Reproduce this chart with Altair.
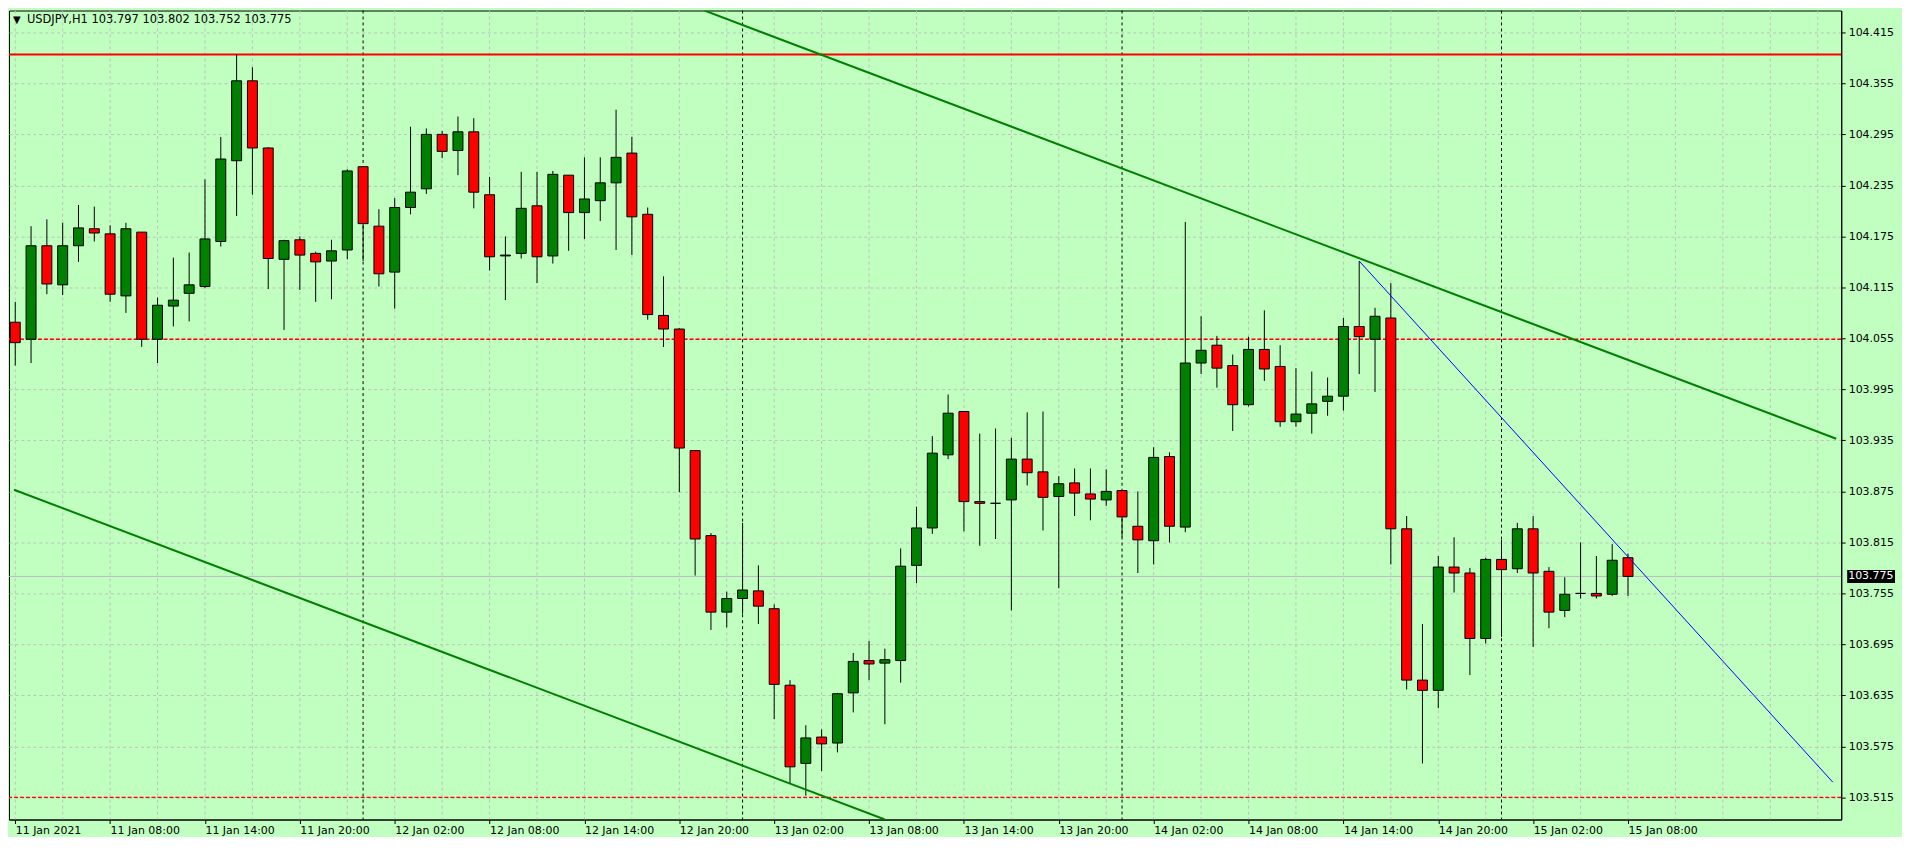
import altair as alt
import pandas as pd

# ---------------- data ----------------
title_text = "USDJPY,H1  103.797 103.802 103.752 103.775"

opens = [104.074, 104.054, 104.164, 104.118, 104.164, 104.184, 104.178, 104.105, 104.180, 104.054,
         104.093, 104.108, 104.116, 104.169, 104.264, 104.358, 104.279, 104.148, 104.171, 104.155,
         104.146, 104.159, 104.257, 104.187, 104.133, 104.209, 104.231, 104.295, 104.276, 104.298,
         104.224, 104.152, 104.155, 104.211, 104.152, 104.247, 104.203, 104.217, 104.238, 104.273,
         104.201, 104.082, 104.066, 103.923, 103.823, 103.733, 103.749, 103.758, 103.737, 103.647,
         103.555, 103.586, 103.579, 103.638, 103.676, 103.673, 103.676, 103.788, 103.832, 103.918,
         103.969, 103.863, 103.861, 103.865, 103.913, 103.898, 103.869, 103.885, 103.872, 103.865,
         103.876, 103.834, 103.817, 103.916, 103.833, 104.026, 104.047, 104.023, 103.977, 104.042,
         104.022, 103.957, 103.967, 103.981, 103.987, 104.069, 104.054, 104.079, 103.831, 103.653,
         103.641, 103.786, 103.779, 103.702, 103.795, 103.784, 103.831, 103.781, 103.735, 103.755,
         103.755, 103.754, 103.797]
highs = [104.098, 104.187, 104.195, 104.191, 104.212, 104.210, 104.188, 104.191, 104.180, 104.103,
         104.150, 104.156, 104.242, 104.292, 104.389, 104.374, 104.280, 104.171, 104.175, 104.157,
         104.171, 104.254, 104.257, 104.207, 104.220, 104.304, 104.302, 104.299, 104.316, 104.314,
         104.245, 104.175, 104.251, 104.251, 104.252, 104.247, 104.268, 104.268, 104.324, 104.292,
         104.209, 104.128, 104.067, 103.923, 103.826, 103.757, 103.838, 103.788, 103.742, 103.653,
         103.600, 103.595, 103.638, 103.685, 103.699, 103.690, 103.808, 103.857, 103.940, 103.989,
         103.969, 103.943, 103.949, 103.938, 103.968, 103.969, 103.893, 103.902, 103.902, 103.901,
         103.876, 103.875, 103.927, 103.921, 104.192, 104.081, 104.058, 104.036, 104.057, 104.088,
         104.047, 104.020, 104.016, 104.009, 104.079, 104.146, 104.091, 104.120, 103.846, 103.719,
         103.799, 103.821, 103.785, 103.797, 103.818, 103.838, 103.846, 103.786, 103.774, 103.815,
         103.799, 103.813, 103.802]
lows = [104.023, 104.026, 104.107, 104.106, 104.145, 104.169, 104.098, 104.085, 104.045, 104.026,
        104.069, 104.075, 104.114, 104.163, 104.199, 104.224, 104.113, 104.065, 104.112, 104.098,
        104.101, 104.148, 104.146, 104.116, 104.090, 104.201, 104.225, 104.267, 104.247, 104.208,
        104.135, 104.100, 104.149, 104.120, 104.143, 104.158, 104.172, 104.193, 104.159, 104.153,
        104.077, 104.045, 103.874, 103.776, 103.712, 103.715, 103.731, 103.719, 103.607, 103.531,
        103.517, 103.546, 103.568, 103.615, 103.653, 103.601, 103.650, 103.767, 103.825, 103.913,
        103.828, 103.811, 103.819, 103.735, 103.882, 103.829, 103.761, 103.846, 103.841, 103.858,
        103.821, 103.779, 103.789, 103.815, 103.827, 104.013, 103.997, 103.946, 103.975, 104.005,
        103.951, 103.951, 103.943, 103.964, 103.970, 104.013, 103.992, 103.789, 103.642, 103.555,
        103.620, 103.756, 103.659, 103.696, 103.704, 103.779, 103.692, 103.714, 103.727, 103.749,
        103.749, 103.752, 103.752]
closes = [104.050, 104.164, 104.119, 104.164, 104.185, 104.179, 104.107, 104.184, 104.054, 104.094,
          104.100, 104.118, 104.172, 104.266, 104.358, 104.279, 104.149, 104.170, 104.153, 104.145,
          104.158, 104.252, 104.190, 104.131, 104.209, 104.227, 104.295, 104.275, 104.298, 104.227,
          104.151, 104.153, 104.208, 104.151, 104.248, 104.203, 104.219, 104.238, 104.268, 104.198,
          104.083, 104.066, 103.926, 103.819, 103.733, 103.749, 103.759, 103.740, 103.648, 103.551,
          103.585, 103.578, 103.637, 103.675, 103.672, 103.677, 103.787, 103.832, 103.920, 103.967,
          103.863, 103.861, 103.861, 103.913, 103.897, 103.868, 103.884, 103.873, 103.866, 103.875,
          103.845, 103.818, 103.915, 103.834, 104.026, 104.041, 104.020, 103.977, 104.042, 104.019,
          103.957, 103.966, 103.978, 103.987, 104.069, 104.057, 104.081, 103.831, 103.653, 103.641,
          103.786, 103.779, 103.702, 103.795, 103.783, 103.831, 103.779, 103.733, 103.754, 103.755,
          103.752, 103.794, 103.775]

bar_index = list(range(len(opens)))  # one bar per hour, 11 Jan 02:00 .. 15 Jan 08:00

x_tick_pos = [0, 6, 12, 18, 24, 30, 36, 42, 48, 54, 60, 66, 72, 78, 84, 90, 96, 102]
x_tick_labels = ["11 Jan 2021", "11 Jan 08:00", "11 Jan 14:00", "11 Jan 20:00",
                 "12 Jan 02:00", "12 Jan 08:00", "12 Jan 14:00", "12 Jan 20:00",
                 "13 Jan 02:00", "13 Jan 08:00", "13 Jan 14:00", "13 Jan 20:00",
                 "14 Jan 02:00", "14 Jan 08:00", "14 Jan 14:00", "14 Jan 20:00",
                 "15 Jan 02:00", "15 Jan 08:00"]
x_grid = [0, 3, 6, 9, 12, 15, 18, 21, 24, 27, 30, 33, 36, 39, 42, 45, 48, 51, 54, 57,
          60, 63, 66, 69, 72, 75, 78, 81, 84, 87, 90, 93, 96, 99, 102, 105, 108, 111, 114]
y_ticks = [103.515, 103.575, 103.635, 103.695, 103.755, 103.815, 103.875, 103.935,
           103.995, 104.055, 104.115, 104.175, 104.235, 104.295, 104.355, 104.415]
day_separators = [22, 46, 70, 94]

solid_levels = [104.389]
dashed_levels = [104.054, 103.515]
bid_price = [103.775]

# trend lines: (bar position, price) end points
upper_x = [43.6, 115.17]
upper_p = [104.4406, 103.937]
lower_x = [-0.08, 55.0]
lower_p = [103.877, 103.489]
blue_x = [85.0, 114.95]
blue_p = [104.146, 103.533]

# ---------------- styling ----------------
W, H = 1839, 812
BG = "#C1FFC1"
UP = "#008000"
DN = "#FF0000"
GRID = "#C0C0C0"
FONT = "DejaVu Sans"

xs = alt.Scale(domain=[-0.08, 115.17], nice=False, zero=False)
ys = alt.Scale(domain=[103.489, 104.4407], nice=False, zero=False)

df = pd.DataFrame({"i": bar_index, "o": opens, "h": highs, "l": lows, "c": closes})
df["fill"] = [UP if c >= o else DN for o, c in zip(opens, closes)]

label_expr = "[" + ",".join("'" + t + "'" for t in x_tick_labels) + "][round(datum.value/6)]"

x_axis = alt.Axis(values=x_tick_pos, labelExpr=label_expr, labelAlign="left",
                  labelFlush=False, labelOverlap=False, labelBound=False, grid=False,
                  tickSize=4, tickColor="black", domainColor="black",
                  labelFont=FONT, labelFontSize=11, labelColor="black",
                  labelPadding=1, title=None)
y_axis = alt.Axis(orient="right", values=y_ticks, format=".3f", grid=True,
                  gridColor=GRID, gridDash=[3, 3], gridWidth=1,
                  tickSize=4, tickColor="black", domainColor="black",
                  labelFont=FONT, labelFontSize=11, labelColor="black",
                  labelPadding=3, labelOverlap=False, labelFlush=False, title=None)


def X(field):
    return alt.X(field, scale=xs, axis=x_axis)


def Y(field):
    return alt.Y(field, scale=ys, axis=y_axis)


vgrid = alt.Chart(pd.DataFrame({"g": x_grid})).mark_rule(
    color=GRID, strokeDash=[3, 3], strokeWidth=1, clip=True
).encode(x=X("g:Q"))

seps = alt.Chart(pd.DataFrame({"g": day_separators})).mark_rule(
    color="black", strokeDash=[3, 3], strokeWidth=1
).encode(x=X("g:Q"))

bid = alt.Chart(pd.DataFrame({"p": bid_price})).mark_rule(
    color="#BDB8C4", strokeWidth=1
).encode(y=Y("p:Q"))

dashed = alt.Chart(pd.DataFrame({"p": dashed_levels})).mark_rule(
    color=DN, strokeDash=[4, 2], strokeWidth=1.3
).encode(y=Y("p:Q"))

solid = alt.Chart(pd.DataFrame({"p": solid_levels})).mark_rule(
    color=DN, strokeWidth=2
).encode(y=Y("p:Q"))

wicks = alt.Chart(df).mark_rule(color="black", strokeWidth=1, clip=True).encode(
    x=X("i:Q"), y=Y("l:Q"), y2="h:Q",
)

bodies = alt.Chart(df).mark_bar(size=10, stroke="black", strokeWidth=1, clip=True).encode(
    x=X("i:Q"), y=Y("o:Q"), y2="c:Q",
    fill=alt.Fill("fill:N", scale=None),
)

tl = pd.DataFrame({
    "x": upper_x + lower_x,
    "p": upper_p + lower_p,
    "k": ["upper"] * len(upper_x) + ["lower"] * len(lower_x),
})
green_lines = alt.Chart(tl).mark_line(color=UP, strokeWidth=2, clip=True).encode(
    x=X("x:Q"), y=Y("p:Q"), detail="k:N",
)
blue_line = alt.Chart(pd.DataFrame({"x": blue_x, "p": blue_p})).mark_line(
    color="#0000FF", strokeWidth=1, clip=True
).encode(x=X("x:Q"), y=Y("p:Q"))

tri = alt.Chart(pd.DataFrame({"t": ["\u25bc"]})).mark_text(
    align="left", baseline="middle", font=FONT, fontSize=10, color="black"
).encode(x=alt.value(4), y=alt.value(10), text="t:N")

title = alt.Chart(pd.DataFrame({"t": [title_text]})).mark_text(
    align="left", baseline="middle", font=FONT, fontSize=11.5, color="black"
).encode(x=alt.value(18), y=alt.value(10), text="t:N")

price_box = alt.Chart(pd.DataFrame({"p": bid_price})).mark_rule(
    color="black", strokeWidth=13, strokeCap="butt"
).encode(
    y=Y("p:Q"),
    x=alt.value(W + 6), x2=alt.value(W + 54),
)
price_txt = alt.Chart(pd.DataFrame({"p": bid_price, "t": ["103.775"]})).mark_text(
    align="left", baseline="middle", font=FONT, fontSize=11, color="white"
).encode(
    y=Y("p:Q"),
    x=alt.value(W + 7),
    text="t:N",
)

chart = alt.layer(
    vgrid, seps, bid, dashed, solid, wicks, bodies, green_lines, blue_line,
    tri, title, price_box, price_txt
).properties(
    width=W, height=H, background=BG,
    padding={"left": 0, "top": 0, "right": 0, "bottom": 0},
).configure_view(
    fill=BG, stroke="black", strokeWidth=1
)

chart.save("out.html", embed_options={"renderer": "svg", "actions": False})
